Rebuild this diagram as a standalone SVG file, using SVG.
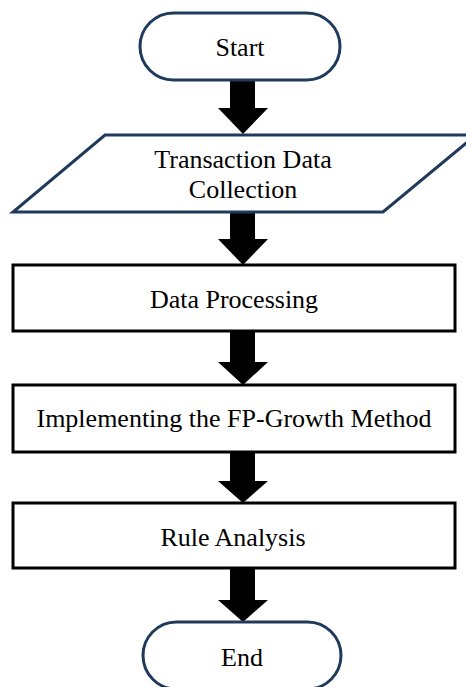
<svg xmlns="http://www.w3.org/2000/svg" width="466" height="687" viewBox="0 0 466 687">
  <style>
    .term { fill: #ffffff; stroke: #1f3a5a; stroke-width: 3; }
    .io { fill: #ffffff; stroke: #1f3a5a; stroke-width: 3; stroke-linejoin: miter; }
    .proc { fill: #ffffff; stroke: #000000; stroke-width: 3; }
    .lbl { font-family: "Liberation Serif", "Times New Roman", serif; font-size: 26px; fill: #000000; text-anchor: middle; }
    .flow { fill: #000000; }
  </style>
  <rect width="466" height="687" fill="#ffffff"/>

  <!-- block arrows: shaft 25 wide, head 50 wide -->
  <g id="connectors">
    <polygon class="flow" points="230,80 255,80 255,108 268,108 243,134 218,108 230,108"/>
    <polygon class="flow" points="230,212 255,212 255,239 268,239 243,265 218,239 230,239"/>
    <polygon class="flow" points="230,331 255,331 255,362 268,362 243,385 218,362 230,362"/>
    <polygon class="flow" points="230,452 255,452 255,481 268,481 243,503 218,481 230,481"/>
    <polygon class="flow" points="230,568 255,568 255,600 268,600 243,622 218,600 230,600"/>
  </g>

  <g id="start">
    <rect class="term" x="140" y="13" width="200" height="67" rx="33.5" ry="33.5"/>
    <text class="lbl" x="240" y="56">Start</text>
  </g>

  <g id="collect">
    <polygon class="io" points="105,135 476,135 383,212 13,212"/>
    <text class="lbl" x="243" y="168">Transaction Data</text>
    <text class="lbl" x="243" y="198">Collection</text>
  </g>

  <g id="process">
    <rect class="proc" x="13" y="265" width="442" height="66"/>
    <text class="lbl" x="234" y="308">Data Processing</text>
  </g>

  <g id="fpgrowth">
    <rect class="proc" x="13" y="385" width="442" height="67"/>
    <text class="lbl" x="234" y="427">Implementing the FP-Growth Method</text>
  </g>

  <g id="rules">
    <rect class="proc" x="13" y="503" width="442" height="65"/>
    <text class="lbl" x="233" y="546">Rule Analysis</text>
  </g>

  <g id="end">
    <rect class="term" x="143" y="622" width="198" height="67" rx="33.5" ry="33.5"/>
    <text class="lbl" x="242" y="666">End</text>
  </g>
</svg>
